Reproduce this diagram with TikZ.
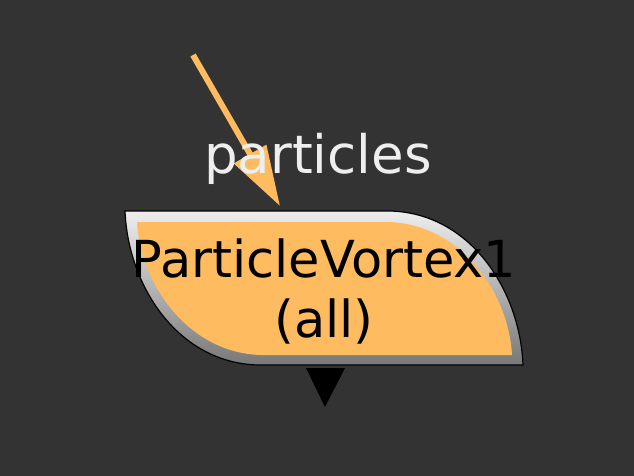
\documentclass[tikz,border=0pt]{standalone}
\usepackage{fontspec}
\setmainfont{DejaVu Sans}
\usepackage{tikz}
\usetikzlibrary{arrows.meta}
\usetikzlibrary{positioning}
\definecolor{mbg}{rgb}{0.2, 0.2, 0.2}
\definecolor{morange}{rgb}{1, 0.733, 0.376}
\definecolor{mlight}{rgb}{0.933, 0.933, 0.933}
\definecolor{mdark}{rgb}{0.47, 0.47, 0.47}
\tikzset{wire/.style = {morange, line width = 6pt, -{Triangle[length = 60pt, width = 36pt]}}}
\tikzset{nodetext/.style = {inner sep = 0, align = center, font = \fontsize{51}{60}\selectfont}}
\tikzset{inputlabel/.style = {inner sep = 0, anchor = base, text = mlight, font = \fontsize{53}{60}\selectfont}}

\begin{document}
\begin{tikzpicture}[x = 1pt, y = -1pt]
    \useasboundingbox (0, 0) rectangle (634, 476);
    \fill [mbg] (0, 0) rectangle (634, 476);

    % node body: grey frame, then orange face
    \shade [top color = mlight, bottom color = mdark, draw = black, line width = 1.2pt]
      (125, 211) -- (390, 211) .. controls (470, 213) and (520, 290) .. (523, 365)
      -- (258, 365) .. controls (178, 363) and (128, 286) .. (125, 211) -- cycle;
    \fill [morange]
      (137, 222) -- (388, 222) .. controls (462, 224) and (509, 295) .. (512, 355)
      -- (261, 355) .. controls (187, 353) and (140, 282) .. (137, 222) -- cycle;

    \node [nodetext] (vortex) at (324, 291) {ParticleVortex1\\(all)};

    % output
    \fill (306, 368) -- (345, 368) -- (325, 407) -- cycle;

    % input
    \coordinate (src) at (193, 55);
    \coordinate (tip) at (280, 206);
    \draw [wire] (src) -- (tip);
    \node [inputlabel] (inlabel) at (318, 173) {particles};
  \end{tikzpicture}
\end{document}
